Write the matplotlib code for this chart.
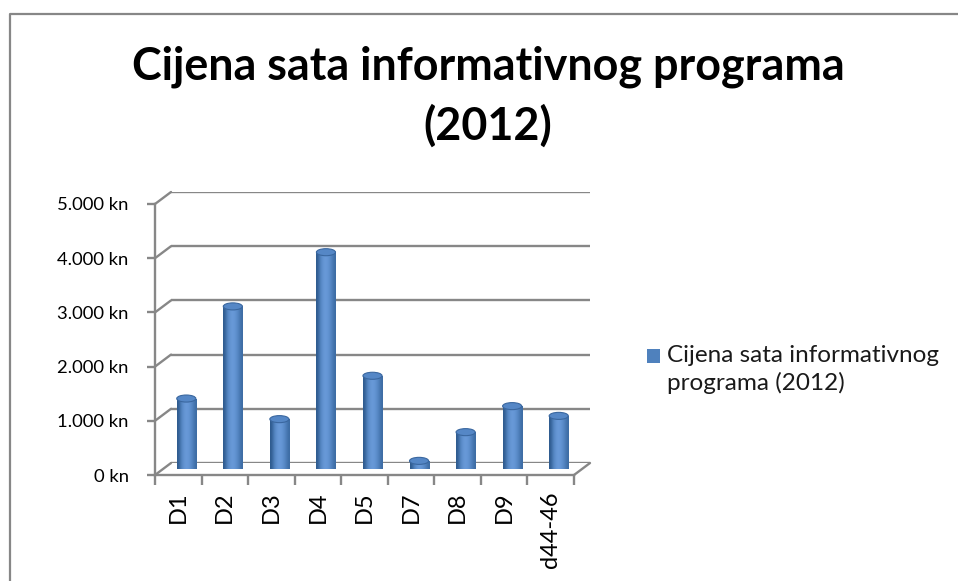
import numpy as np
import matplotlib
matplotlib.use("Agg")
import matplotlib.pyplot as plt
from matplotlib.patches import Rectangle, Ellipse, ConnectionPatch
from matplotlib.lines import Line2D
from matplotlib.ticker import FuncFormatter

# data
categories = ["D1", "D2", "D3", "D4", "D5", "D7", "D8", "D9", "d44-46"]
prices = [1300, 3000, 920, 4000, 1720, 150, 680, 1160, 980]
y_ticks = [0, 1000, 2000, 3000, 4000, 5000]
title_lines = ["Cijena sata informativnog programa", "(2012)"]
series_name = "Cijena sata informativnog\nprograma (2012)"

plt.rcParams['font.family'] = ['Lato', 'DejaVu Sans']

W, H = 958, 581
GRID = '#878787'
BLUE = '#4F81BD'


def px_axes(fig, left, top, width, height):
    # place an axes with pixel geometry (top measured from the top of the figure)
    return fig.add_axes([left / W, (H - top - height) / H, width / W, height / H])


def setup(ax):
    ax.set_xlim(-0.5, len(categories) - 0.5)
    ax.set_ylim(0, 5000)
    ax.patch.set_alpha(0)


def kn(v, pos):
    return "{:,.0f} kn".format(v).replace(",", ".")


fig = plt.figure(figsize=(W / 100, H / 100), dpi=100)

# outer chart border (only left and top edges are inside the picture)
fig.add_artist(Line2D([9.5 / W, 9.5 / W, 1.0], [0.0, 1 - 13.5 / H, 1 - 13.5 / H],
                      transform=fig.transFigure, color=GRID, lw=1.6))

fig.text(488 / W, 1 - 79 / H, title_lines[0], ha='center', va='baseline', fontsize=32.3,
         fontweight='bold')
fig.text(488 / W, 1 - 140 / H, title_lines[1], ha='center', va='baseline', fontsize=32.3,
         fontweight='bold')

# three depth planes: back wall, bar plane, front axes
axb = px_axes(fig, 171, 192, 419, 271)
axm = px_axes(fig, 163, 198, 419, 271)
axf = px_axes(fig, 155, 204, 419, 271)
for a in (axb, axm, axf):
    setup(a)

x = np.arange(len(categories))

# back wall gridlines
axb.set_yticks(y_ticks)
axb.grid(axis='y', color=GRID, lw=1.7)
axb.set_xticks([])
axb.tick_params(left=False, labelleft=False)
for s in axb.spines.values():
    s.set_visible(False)

# left wall and floor diagonals
for v in y_ticks:
    con = ConnectionPatch(xyA=(-0.5, v), coordsA=axf.transData, xyB=(-0.5, v), coordsB=axb.transData,
                          color=GRID, lw=1.7)
    fig.add_artist(con)
fig.add_artist(ConnectionPatch(xyA=(len(categories) - 0.5, 0), coordsA=axf.transData,
                               xyB=(len(categories) - 0.5, 0), coordsB=axb.transData, color=GRID, lw=1.7))

# cylinder bars
axm.axis('off')
bw = 0.41
cap = 130
bars = axm.bar(x, prices, width=bw, color='none', edgecolor='none')
grad = np.array([[0.0, 0.45, 0.75, 0.85, 0.7, 0.45, 0.2]])
cmap = matplotlib.colors.LinearSegmentedColormap.from_list('cyl', ['#2E5A8E', '#4F81BD', '#6A9BDA'])
for b, v in zip(bars, prices):
    xc = b.get_x() + bw / 2
    bottom = Ellipse((xc, 0), bw, cap, transform=axm.transData)
    for clip in (b, bottom):
        im = axm.imshow(grad, cmap=cmap, aspect='auto', interpolation='bicubic',
                        extent=(b.get_x(), b.get_x() + bw, -cap, v), zorder=2)
        im.set_clip_path(clip)
    axm.add_patch(Ellipse((xc, v), bw, cap, fc='#5587C6', ec='#3A679F', lw=0.8, zorder=3))
setup(axm)

# front axes: value axis and category axis
for side in ('top', 'right'):
    axf.spines[side].set_visible(False)
for side in ('left', 'bottom'):
    axf.spines[side].set_color(GRID)
    axf.spines[side].set_linewidth(1.7)
axf.set_yticks(y_ticks)
axf.yaxis.set_major_formatter(FuncFormatter(kn))
axf.tick_params(axis='y', length=6, width=1.7, color=GRID, labelsize=13.3, pad=13)
axf.set_xticks(x)
axf.set_xticklabels(categories, rotation=90, fontsize=17)
axf.set_xticks(np.arange(len(categories) + 1) - 0.5, minor=True)
axf.tick_params(axis='x', which='major', length=0, pad=12)
axf.tick_params(axis='x', which='minor', length=7, width=1.7, color=GRID)

# legend
fig.patches.append(Rectangle((647 / W, 1 - 363 / H), 13 / W, 14 / H, transform=fig.transFigure,
                             fc=BLUE, ec='none'))
fig.text(667 / W, 1 - 345 / H, series_name, ha='left', va='top', fontsize=17.5, linespacing=1.3,
         color='#1a1a1a')

fig.savefig("out.png", dpi=100)
